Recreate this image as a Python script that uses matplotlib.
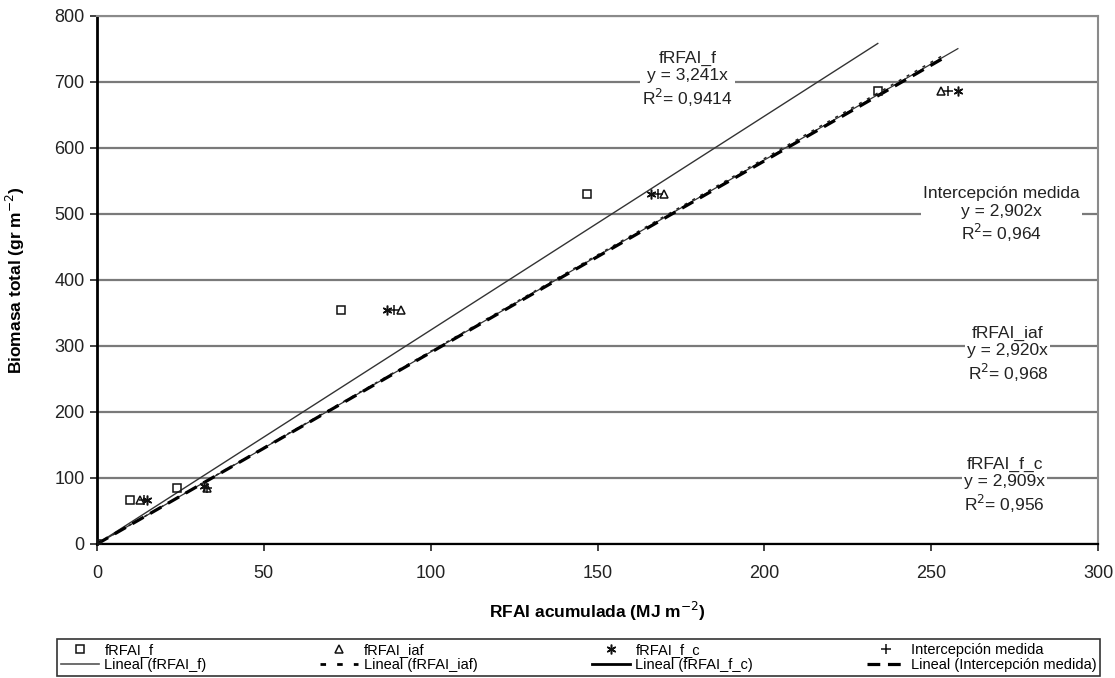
import numpy as np
import matplotlib
matplotlib.use('Agg')
import matplotlib.pyplot as plt
from matplotlib.lines import Line2D

plt.rcParams['font.family'] = ['Liberation Sans', 'DejaVu Sans']

# observed points (RFAI acumulada, Biomasa total)
x_f = [0, 10, 24, 73, 147, 234]
y_f = [0, 67, 85, 355, 530, 686]
x_iaf = [0, 13, 33, 91, 170, 253]
y_iaf = [0, 67, 85, 355, 530, 686]
x_fc = [0, 15, 32, 87, 166, 258]
y_fc = [0, 67, 88, 355, 530, 686]
x_int = [0, 14, 33, 89, 168, 255]
y_int = [0, 67, 85, 355, 530, 686]

# trend line slopes (through origin) and R2 as printed
slopes = {'fRFAI_f': 3.241, 'fRFAI_iaf': 2.920, 'fRFAI_f_c': 2.909, 'Intercepción medida': 2.902}
r2_txt = {'fRFAI_f': '0,9414', 'fRFAI_iaf': '0,968', 'fRFAI_f_c': '0,956', 'Intercepción medida': '0,964'}
slope_txt = {'fRFAI_f': '3,241', 'fRFAI_iaf': '2,920', 'fRFAI_f_c': '2,909', 'Intercepción medida': '2,902'}

fig = plt.figure(figsize=(11.15, 6.78), dpi=100)
ax = fig.add_axes([97/1115, 1-544/678, 1001/1115, 528/678])

ax.set_xlim(0, 300)
ax.set_ylim(0, 800)
ax.set_yticks(np.arange(0, 801, 100))
ax.set_xticks(np.arange(0, 301, 50))
ax.yaxis.grid(True, color='#7a7a7a', lw=1.6)
ax.set_axisbelow(True)

for s in ['top', 'right']:
    ax.spines[s].set_color('#8a8a8a')
    ax.spines[s].set_linewidth(1.5)
ax.spines['left'].set_linewidth(2)
ax.spines['bottom'].set_linewidth(1.6)

ax.tick_params(axis='both', direction='out', length=5, width=1.2, labelsize=13, colors='#222222')
ax.tick_params(axis='x', pad=10)
ax.tick_params(axis='y', pad=4)

# trend lines
def trend(xs, name, **kw):
    xx = np.array([0, max(xs)])
    return ax.plot(xx, slopes[name] * xx, **kw)[0]

l_f = trend(x_f, 'fRFAI_f', color='#333333', lw=1.0)
l_fc = trend(x_fc, 'fRFAI_f_c', color='#333333', lw=0.9)
l_iaf = trend(x_iaf, 'fRFAI_iaf', color='#222222', lw=1.1, dashes=(2, 4))
l_int = trend(x_int, 'Intercepción medida', color='black', lw=2.3, dashes=(4, 2.4))

mk = dict(ls='none', mfc='none', mec='#111111', mew=1.1, zorder=5)
p_f, = ax.plot(x_f, y_f, marker='s', ms=6, **mk)
p_iaf, = ax.plot(x_iaf, y_iaf, marker='^', ms=6, **mk)
p_fc, = ax.plot(x_fc, y_fc, marker=(6, 2, 0), ms=7, **mk)
p_int, = ax.plot(x_int, y_int, marker='+', ms=7, **mk)

# equation labels
labels = [('fRFAI_f', 177, 703), ('Intercepción medida', 271, 498),
          ('fRFAI_iaf', 273, 287), ('fRFAI_f_c', 272, 88)]
for name, lx, ly in labels:
    txt = f"{name}\ny = {slope_txt[name]}x\nR$^2$= {r2_txt[name]}"
    ax.text(lx, ly, txt, ha='center', va='center', fontsize=12.5, color='#222222',
            linespacing=1.2, zorder=6,
            bbox=dict(facecolor='white', edgecolor='none', pad=1.5))

ax.set_ylabel('Biomasa total (gr m$^{-2}$)', fontsize=12.5, fontweight='bold')
ax.yaxis.set_label_coords(-0.07, 0.5)
ax.set_xlabel('RFAI acumulada (MJ m$^{-2}$)', fontsize=12.5, fontweight='bold')
ax.xaxis.set_label_coords(0.5, -0.105)

leg_lf = Line2D([], [], color='#555555', lw=1.2)
leg_lfc = Line2D([], [], color='black', lw=2.0)
leg_liaf = Line2D([], [], color='black', lw=2.0, dashes=(2, 4))
handles = [p_f, leg_lf, p_iaf, leg_liaf, p_fc, leg_lfc, p_int, l_int]
names = ['fRFAI_f', 'Lineal (fRFAI_f)', 'fRFAI_iaf', 'Lineal (fRFAI_iaf)',
         'fRFAI_f_c', 'Lineal (fRFAI_f_c)', 'Intercepción medida', 'Lineal (Intercepción medida)']
leg = fig.legend(handles, names, ncol=4, loc='lower left',
                 bbox_to_anchor=(57/1115, 2/678, 1043/1115, 42/678), mode='expand',
                 borderaxespad=0, fontsize=10.5, frameon=True, fancybox=False,
                 handlelength=2.6, handletextpad=0.4, labelspacing=0.1, borderpad=0.25)
leg.get_frame().set_edgecolor('black')
leg.get_frame().set_linewidth(1.2)

fig.savefig('out.png', dpi=100)
